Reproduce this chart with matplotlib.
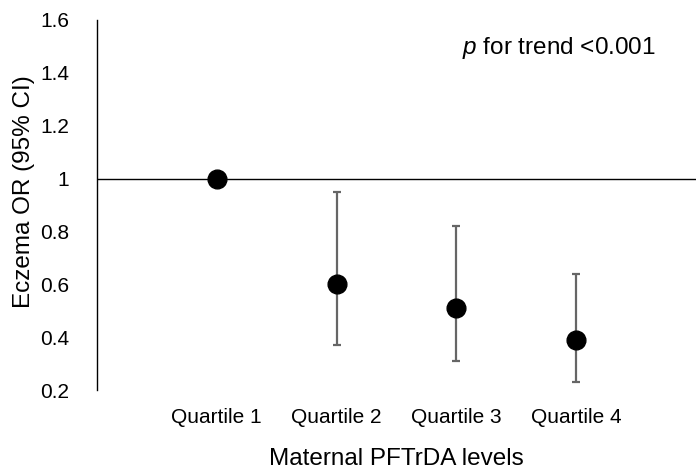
import numpy as np
import matplotlib.pyplot as plt
from matplotlib.ticker import FuncFormatter

plt.rcParams['font.family'] = ['Liberation Sans', 'DejaVu Sans']
plt.rcParams['mathtext.fontset'] = 'custom'
plt.rcParams['mathtext.it'] = 'Liberation Sans:italic'
plt.rcParams['mathtext.rm'] = 'Liberation Sans'

# data
quartiles = ['Quartile 1', 'Quartile 2', 'Quartile 3', 'Quartile 4']
odds_ratio = [1.00, 0.60, 0.51, 0.39]
ci_low = [1.00, 0.37, 0.31, 0.23]
ci_high = [1.00, 0.95, 0.82, 0.64]
y_ticks = [0.2, 0.4, 0.6, 0.8, 1.0, 1.2, 1.4, 1.6]

x = np.arange(1, len(quartiles) + 1)
or_ = np.array(odds_ratio)
yerr = np.vstack([or_ - np.array(ci_low), np.array(ci_high) - or_])

fig = plt.figure(figsize=(6.96, 4.71), dpi=100)
ax = fig.add_axes([97/696, 81/471, 599/696, 370/471])

ax.axhline(1.0, color='black', linewidth=1.0, zorder=1)
ax.errorbar(x, or_, yerr=yerr, fmt='none', ecolor='#666666',
            elinewidth=1.6, capsize=3, capthick=1.6, zorder=2)
ax.plot(x, or_, 'o', color='black', markersize=13.5, zorder=3)

ax.set_xlim(0, 5)
ax.set_ylim(0.2, 1.6)
ax.set_yticks(y_ticks)
ax.yaxis.set_major_formatter(FuncFormatter(lambda v, p: f'{v:g}'))
ax.set_xticks(x)
ax.set_xticklabels(quartiles)
ax.tick_params(axis='y', length=0, labelsize=15, pad=20)
ax.tick_params(axis='x', length=0, labelsize=15, pad=13)

for s in ['top', 'right', 'bottom']:
    ax.spines[s].set_visible(False)
ax.spines['left'].set_linewidth(1.0)

ax.set_ylabel('Eczema OR (95% CI)', fontsize=17.5)
ax.yaxis.set_label_coords(-0.104, 0.535)
ax.set_xlabel('Maternal PFTrDA levels', fontsize=17.5, labelpad=15)

ax.text(0.61, 0.925, r'$\it{p}$ for trend <0.001', transform=ax.transAxes,
        fontsize=17.5, ha='left', va='center')

fig.savefig('out.png', dpi=100)
